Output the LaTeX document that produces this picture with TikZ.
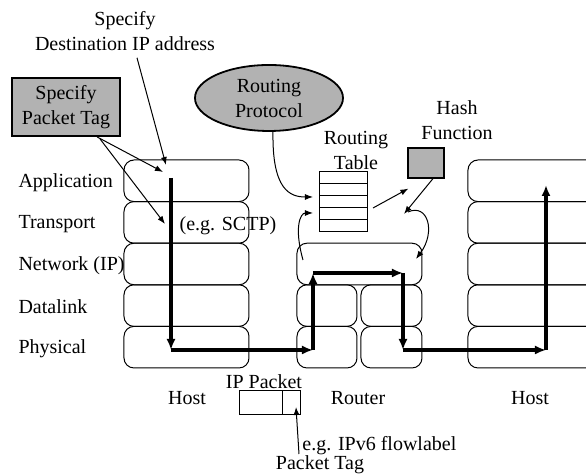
\documentclass[tikz,border=0pt]{standalone}
\usepackage{fontspec}
\setmainfont{Liberation Serif}
\usetikzlibrary{positioning,arrows.meta,shapes.geometric}

\begin{document}
\begin{tikzpicture}[x=0.5pt,y=-0.5pt,>={Latex[length=4pt,width=3pt]},line width=0.5pt,
  font=\fontsize{10}{12.5}\selectfont,
  layer/.style={rounded corners=5pt},
  flow/.style={line width=1.6pt,-{Latex[length=5.5pt,width=4.5pt]}},
  graybox/.style={draw,fill=gray!60,line width=0.9pt},
  lbl/.style={anchor=west,inner sep=0pt}]
  \clip (0,0) rectangle (586,474);
  % protocol stacks (hosts)
  \foreach \i in {0,...,4} {
    \draw[layer] (124,160+41.6*\i) rectangle (249,201.6+41.6*\i);
    \draw[layer] (468,160+41.6*\i) rectangle (640,201.6+41.6*\i);
  }
  % router
  \draw[layer] (297,243.2) rectangle (422,284.8);
  \foreach \y in {284.8,326.4} {
    \draw[layer] (297,\y) rectangle (357,\y+41.6);
    \draw[layer] (361,\y) rectangle (422,\y+41.6);
  }
  \node[lbl] (app) at (18,183) {Application};
  \node[lbl] (trans) at (18,224) {Transport};
  \node[lbl] (net) at (18,266) {Network (IP)};
  \node[lbl] (link) at (18,307) {Datalink};
  \node[lbl] (phy) at (18,349) {Physical};

  % packet flow
  \coordinate (s0) at (171,178);
  \coordinate (s1) at (171,350);
  \coordinate (s2) at (313,350);
  \coordinate (s3) at (313,273);
  \coordinate (s4) at (403,273);
  \coordinate (s5) at (403,350);
  \coordinate (s6) at (546,350);
  \coordinate (s7) at (546,185);
  \foreach \a/\b in {s0/s1,s1/s2,s2/s3,s3/s4,s4/s5,s5/s6,s6/s7}
    \draw[flow] (\a) -- (\b);

  % top labels
  \node[align=center] (dest) at (125,31) {Specify\\Destination IP address};
  \node[graybox,minimum width=54pt,minimum height=29pt,align=center,inner sep=1pt] (tag) at (66,107) {Specify\\Packet Tag};
  \coordinate (appin) at (163,172);
  \coordinate (trin) at (165,224);
  \coordinate (dstin) at (166,165);
  \draw[->] ([xshift=15.5pt]tag.south) -- (appin);
  \draw[->] ([xshift=17pt,yshift=-1pt]tag.south) -- (trin);
  \draw[->] ([xshift=6pt]dest.south) -- (dstin);
  \node (sctp) at (228,226) {(e.g. SCTP)};

  % routing
  \node[graybox,ellipse,minimum width=74pt,minimum height=33pt,align=center,inner sep=0pt] (rp) at (269,98) {Routing\\Protocol};
  \node[align=center] (rtlbl) at (356,150) {Routing\\Table};
  \node[draw,minimum width=24pt,minimum height=30pt,inner sep=0pt] (rt) at (344,202) {};
  \foreach \y in {184,196,208,220}
    \draw (rt.west |- 0,\y) -- (rt.east |- 0,\y);
  \node[align=center] (hflbl) at (457,120) {Hash\\Function};
  \node[graybox,line width=0.6pt,minimum width=18pt,minimum height=15pt,inner sep=0pt] (hash) at (426,163) {};
  \coordinate (rtin) at (313,197);
  \coordinate (rtin2) at (313,213);
  \coordinate (rtout) at (373,208);
  \coordinate (hashout) at (404,214);
  \coordinate (netl) at (303,260);
  \coordinate (netr) at (416,259);
  \draw[->] ([xshift=2pt]rp.south) .. controls (272,190) and (290,197) .. (rtin);
  \draw[->] (rtout) -- ([shift={(0.5pt,-5pt)}]hash.south west);
  \draw[->] ([xshift=3.5pt]hash.south) -- (hashout);
  \draw[->] (netl) .. controls (294,228) and (300,213) .. (rtin2);
  \draw[->] (408,212) .. controls (428,203) and (436,232) .. (netr);

  % bottom
  \node (host1) at (187,398) {Host};
  \node (router) at (358,398) {Router};
  \node (host2) at (530,398) {Host};
  \node (ippkt) at (264,382) {IP Packet};
  \draw (240,391) rectangle (301,415);
  \draw (283,391) -- (283,415);
  \coordinate (tagcell) at (296,407);
  \node[lbl] (flowlbl) at (302,446) {e.g. IPv6 flowlabel};
  \node (pkttag) at (320,465) {Packet Tag};
  \draw[->] ([shift={(-1.5pt,-4pt)}]flowlbl.west) -- (tagcell);
\end{tikzpicture}
\end{document}
